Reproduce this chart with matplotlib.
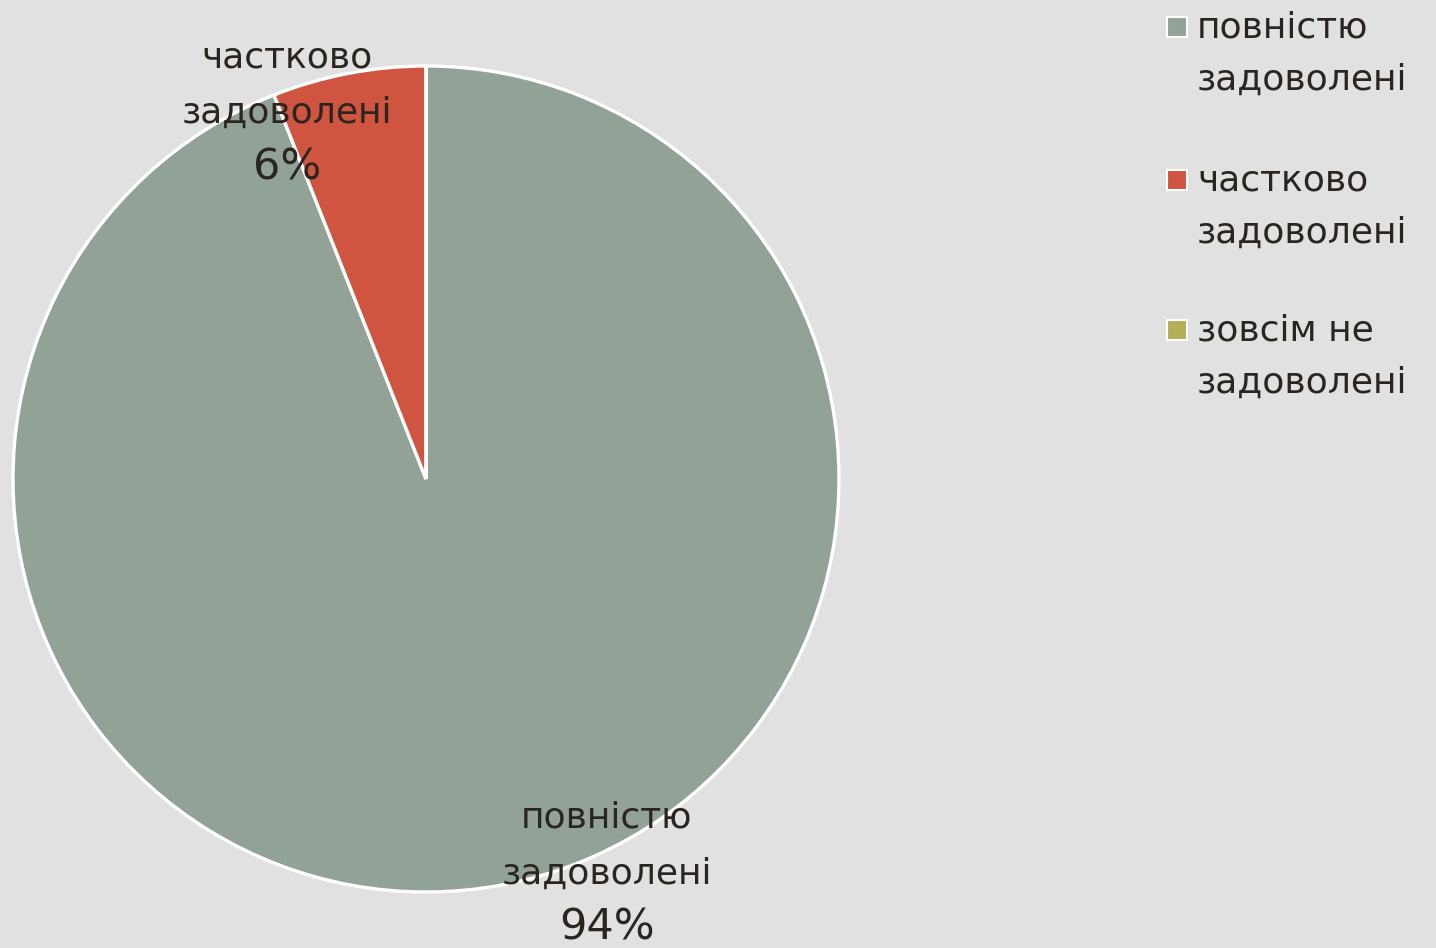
import matplotlib
matplotlib.use("Agg")
import matplotlib.pyplot as plt
from matplotlib.patches import Rectangle

categories = ["повністю\nзадоволені", "частково\nзадоволені", "зовсім не\nзадоволені"]
values = [94, 6, 0]
colors = ["#93A297", "#D05540", "#B5AF57"]
pct_labels = ["94%", "6%", ""]

plt.rcParams['font.family'] = ['DejaVu Sans']
TXT = "#2B2520"
BG = "#E1E1E1"

W, H = 1436, 948
fig = plt.figure(figsize=(W / 100, H / 100), dpi=100, facecolor=BG)
ax = fig.add_axes([0, 0, 1, 1])

cx, cy, r = 426, H - 479, 413
ax.pie(values, colors=colors, startangle=90, counterclock=False,
       center=(cx, cy), radius=r, frame=True,
       wedgeprops=dict(edgecolor="white", linewidth=2.4))
ax.set_xlim(0, W)
ax.set_ylim(0, H)
ax.axis("off")

FS = 26
# data labels
label_pos = [(607, 818), (287, 57)]
for i, (x, y) in enumerate(label_pos):
    lines = categories[i].split("\n")
    ax.text(x, H - y, lines[0], ha="center", va="center", fontsize=FS, color=TXT)
    ax.text(x, H - (y + 56), lines[1], ha="center", va="center", fontsize=FS, color=TXT)
    ax.text(x, H - (y + 110), pct_labels[i], ha="center", va="center", fontsize=31, color=TXT)

# legend
leg_y = [27, 180, 330]
for i, y in enumerate(leg_y):
    ax.add_patch(Rectangle((1167, H - y - 10), 20, 20, facecolor=colors[i],
                           edgecolor="white", linewidth=1.5))
    lines = categories[i].split("\n")
    ax.text(1197, H - y, lines[0], ha="left", va="center", fontsize=FS, color=TXT)
    ax.text(1197, H - (y + 53), lines[1], ha="left", va="center", fontsize=FS, color=TXT)

fig.savefig("out.png", dpi=100, facecolor=BG)
